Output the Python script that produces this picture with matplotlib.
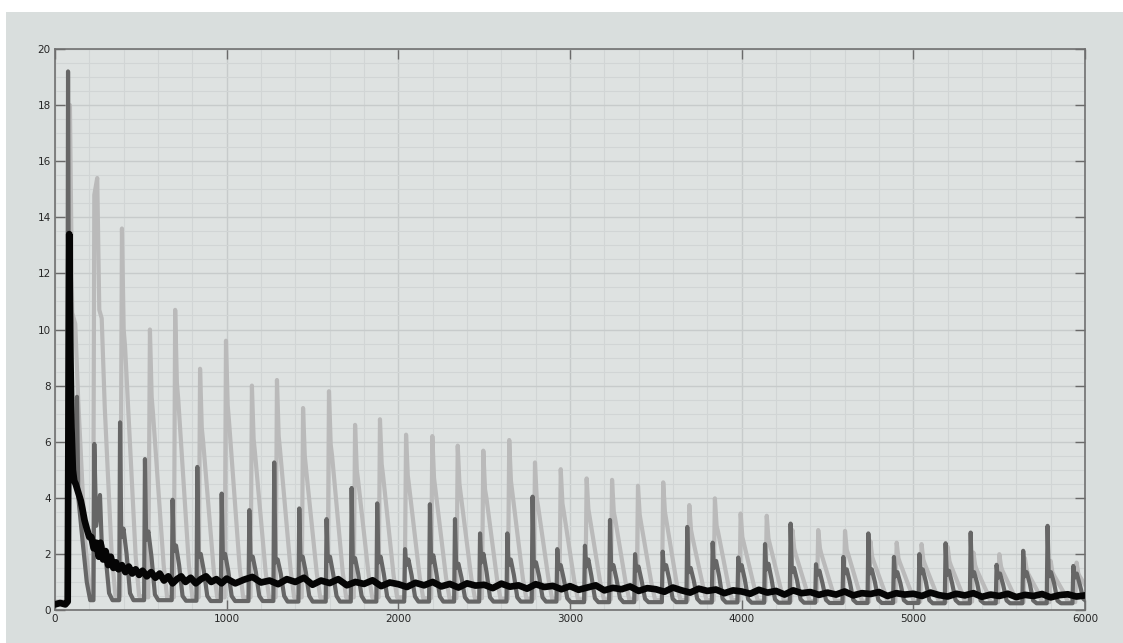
import matplotlib
matplotlib.use("Agg")
import matplotlib.pyplot as plt
from matplotlib.ticker import MultipleLocator
from matplotlib.patches import Rectangle

# ---------------- data ----------------
# light gray series: vertices (x, y)
lg_x = [0, 78,
        87, 100, 118, 135, 175, 205, 222,
        229, 246, 258, 272, 290, 330, 352, 380,
        390, 400, 408, 470, 490, 543,
        553, 563, 571, 633, 653, 692,
        700, 710, 718, 780, 800, 837,
        845, 855, 863, 925, 945, 988,
        996, 1006, 1014, 1076, 1096, 1139,
        1147, 1157, 1165, 1227, 1247, 1285,
        1293, 1303, 1311, 1373, 1393, 1437,
        1445, 1455, 1463, 1525, 1545, 1588,
        1596, 1606, 1614, 1676, 1696, 1740,
        1748, 1758, 1766, 1828, 1848, 1885,
        1893, 1903, 1911, 1973, 1993, 2037,
        2045, 2055, 2063, 2125, 2145, 2190,
        2198, 2208, 2216, 2278, 2298, 2338,
        2346, 2356, 2364, 2426, 2446, 2487,
        2495, 2505, 2513, 2575, 2595, 2638,
        2646, 2656, 2664, 2726, 2746, 2788,
        2796, 2806, 2814, 2876, 2896, 2938,
        2946, 2956, 2964, 3026, 3046, 3089,
        3097, 3107, 3115, 3177, 3197, 3237,
        3245, 3255, 3263, 3325, 3345, 3388,
        3396, 3406, 3414, 3476, 3496, 3535,
        3543, 3553, 3561, 3623, 3643, 3687,
        3695, 3705, 3713, 3775, 3795, 3836,
        3844, 3854, 3862, 3924, 3944, 3986,
        3994, 4004, 4012, 4074, 4094, 4138,
        4146, 4156, 4164, 4226, 4246, 4288,
        4296, 4306, 4314, 4376, 4396, 4438,
        4446, 4456, 4464, 4526, 4546, 4594,
        4602, 4612, 4620, 4682, 4702, 4742,
        4750, 4760, 4768, 4830, 4850, 4895,
        4903, 4913, 4921, 4983, 5003, 5040,
        5048, 5058, 5066, 5128, 5148, 5192,
        5200, 5210, 5218, 5280, 5300, 5342,
        5350, 5360, 5368, 5430, 5450, 5493,
        5501, 5511, 5519, 5581, 5601, 5642,
        5650, 5660, 5668, 5730, 5750, 5792,
        5800, 5810, 5818, 5880, 5900, 5943,
        5951, 5961, 5969, 6000]
lg_y = [0.3, 0.3,
        18.0, 10.6, 10.2, 7.5, 2.5, 0.6, 0.5,
        14.8, 15.4, 10.7, 10.4, 7.2, 2.0, 0.5, 0.5,
        13.6, 10.0, 9.4, 1.9, 0.5, 0.45,
        10.0, 7.6, 7.0, 1.6, 0.45, 0.45,
        10.7, 8.1, 7.5, 1.6, 0.45, 0.45,
        8.6, 6.5, 6.0, 1.4, 0.45, 0.45,
        9.6, 7.3, 6.7, 1.5, 0.45, 0.45,
        8.0, 6.1, 5.6, 1.35, 0.45, 0.45,
        8.2, 6.2, 5.7, 1.4, 0.45, 0.45,
        7.2, 5.5, 5.0, 1.3, 0.45, 0.45,
        7.8, 5.9, 5.5, 1.35, 0.45, 0.45,
        6.6, 5.0, 4.6, 1.2, 0.45, 0.45,
        6.8, 5.2, 4.8, 1.2, 0.45, 0.45,
        6.25, 4.8, 4.4, 1.15, 0.42, 0.42,
        6.2, 4.7, 4.3, 1.15, 0.42, 0.42,
        5.86, 4.5, 4.1, 1.1, 0.42, 0.42,
        5.68, 4.3, 4.0, 1.1, 0.4, 0.4,
        6.06, 4.6, 4.2, 1.1, 0.4, 0.4,
        5.26, 4.0, 3.7, 1.05, 0.4, 0.4,
        5.02, 3.8, 3.5, 1.0, 0.38, 0.38,
        4.69, 3.6, 3.3, 0.95, 0.38, 0.38,
        4.64, 3.5, 3.25, 0.95, 0.38, 0.38,
        4.43, 3.4, 3.1, 0.9, 0.36, 0.36,
        4.55, 3.5, 3.2, 0.9, 0.36, 0.36,
        3.74, 2.85, 2.6, 0.85, 0.35, 0.35,
        3.98, 3.0, 2.8, 0.85, 0.35, 0.35,
        3.44, 2.6, 2.4, 0.8, 0.33, 0.33,
        3.36, 2.55, 2.35, 0.8, 0.33, 0.33,
        2.85, 2.2, 2.0, 0.75, 0.32, 0.32,
        2.85, 2.2, 2.0, 0.75, 0.32, 0.32,
        2.82, 2.15, 2.0, 0.72, 0.3, 0.3,
        2.45, 1.9, 1.75, 0.7, 0.3, 0.3,
        2.4, 1.85, 1.7, 0.7, 0.3, 0.3,
        2.35, 1.8, 1.65, 0.68, 0.3, 0.3,
        2.25, 1.75, 1.6, 0.65, 0.3, 0.3,
        2.05, 1.6, 1.45, 0.62, 0.28, 0.28,
        1.99, 1.55, 1.4, 0.6, 0.28, 0.28,
        1.85, 1.45, 1.3, 0.6, 0.28, 0.28,
        1.75, 1.35, 1.25, 0.58, 0.28, 0.28,
        1.69, 1.3, 1.2, 0.9]

# dark gray series: vertices (x, y)
dg_x = [0, 70,
        76, 82, 95, 120, 128, 136, 160, 185, 205, 224,
        229, 240, 262, 272, 295, 315, 335, 374,
        379, 386, 399, 417, 437, 457, 519,
        524, 531, 544, 562, 582, 602, 680,
        685, 692, 705, 723, 743, 763, 824,
        829, 836, 849, 867, 887, 907, 966,
        971, 978, 991, 1009, 1029, 1049, 1127,
        1132, 1139, 1152, 1170, 1190, 1210, 1272,
        1277, 1284, 1297, 1315, 1335, 1355, 1418,
        1423, 1430, 1443, 1461, 1481, 1501, 1577,
        1582, 1589, 1602, 1620, 1640, 1660, 1723,
        1728, 1735, 1748, 1766, 1786, 1806, 1872,
        1877, 1884, 1897, 1915, 1935, 1955, 2034,
        2039, 2046, 2059, 2077, 2097, 2117, 2179,
        2184, 2191, 2204, 2222, 2242, 2262, 2325,
        2330, 2337, 2350, 2368, 2388, 2408, 2471,
        2476, 2483, 2496, 2514, 2534, 2554, 2630,
        2635, 2642, 2655, 2673, 2693, 2713, 2777,
        2782, 2789, 2802, 2820, 2840, 2860, 2921,
        2926, 2933, 2946, 2964, 2984, 3004, 3082,
        3087, 3094, 3107, 3125, 3145, 3165, 3228,
        3233, 3240, 3253, 3271, 3291, 3311, 3374,
        3379, 3386, 3399, 3417, 3437, 3457, 3535,
        3540, 3547, 3560, 3578, 3598, 3618, 3678,
        3683, 3690, 3703, 3721, 3741, 3761, 3826,
        3831, 3838, 3851, 3869, 3889, 3909, 3975,
        3980, 3987, 4000, 4018, 4038, 4058, 4131,
        4136, 4143, 4156, 4174, 4194, 4214, 4280,
        4285, 4292, 4305, 4323, 4343, 4363, 4428,
        4433, 4440, 4453, 4471, 4491, 4511, 4587,
        4592, 4599, 4612, 4630, 4650, 4670, 4733,
        4738, 4745, 4758, 4776, 4796, 4816, 4882,
        4887, 4894, 4907, 4925, 4945, 4965, 5030,
        5035, 5042, 5055, 5073, 5093, 5113, 5183,
        5188, 5195, 5208, 5226, 5246, 5266, 5329,
        5334, 5341, 5354, 5372, 5392, 5412, 5480,
        5485, 5492, 5505, 5523, 5543, 5563, 5635,
        5640, 5647, 5660, 5678, 5698, 5718, 5777,
        5782, 5789, 5802, 5820, 5840, 5860, 5927,
        5932, 5939, 5952, 5970, 5990, 6000]
dg_y = [0.25, 0.25,
        19.2, 8.0, 5.0, 4.5, 7.6, 4.0, 2.5, 1.0, 0.35, 0.35,
        5.92, 3.0, 4.1, 2.4, 1.9, 0.6, 0.35, 0.35,
        6.69, 2.6, 2.9, 2.0, 0.6, 0.35, 0.35,
        5.38, 2.5, 2.8, 1.9, 0.55, 0.35, 0.35,
        3.93, 2.1, 2.3, 1.6, 0.5, 0.33, 0.33,
        5.1, 1.9, 2.0, 1.4, 0.5, 0.32, 0.32,
        4.15, 1.85, 2.0, 1.4, 0.5, 0.32, 0.32,
        3.56, 1.8, 1.9, 1.35, 0.5, 0.32, 0.32,
        5.26, 1.7, 1.8, 1.3, 0.5, 0.3, 0.3,
        3.62, 1.8, 1.9, 1.35, 0.5, 0.3, 0.3,
        3.24, 1.75, 1.9, 1.3, 0.5, 0.3, 0.3,
        4.35, 1.7, 1.85, 1.3, 0.5, 0.3, 0.3,
        3.8, 1.7, 1.9, 1.3, 0.48, 0.3, 0.3,
        2.17, 1.6, 1.8, 1.25, 0.48, 0.3, 0.3,
        3.77, 1.7, 1.95, 1.3, 0.48, 0.3, 0.3,
        3.24, 1.5, 1.65, 1.15, 0.45, 0.3, 0.3,
        2.73, 1.7, 2.0, 1.35, 0.45, 0.3, 0.3,
        2.73, 1.6, 1.8, 1.25, 0.45, 0.3, 0.3,
        4.04, 1.55, 1.7, 1.2, 0.45, 0.3, 0.3,
        2.17, 1.45, 1.6, 1.1, 0.42, 0.28, 0.28,
        2.29, 1.55, 1.8, 1.2, 0.42, 0.28, 0.28,
        3.21, 1.45, 1.6, 1.1, 0.42, 0.28, 0.28,
        1.99, 1.4, 1.55, 1.05, 0.4, 0.28, 0.28,
        2.08, 1.45, 1.6, 1.1, 0.4, 0.28, 0.28,
        2.96, 1.35, 1.5, 1.05, 0.4, 0.27, 0.27,
        2.4, 1.5, 1.75, 1.2, 0.4, 0.27, 0.27,
        1.87, 1.4, 1.6, 1.1, 0.38, 0.26, 0.26,
        2.35, 1.45, 1.65, 1.1, 0.38, 0.26, 0.26,
        3.08, 1.35, 1.5, 1.05, 0.38, 0.26, 0.26,
        1.63, 1.25, 1.4, 0.95, 0.36, 0.25, 0.25,
        1.89, 1.3, 1.45, 1.0, 0.36, 0.25, 0.25,
        2.73, 1.3, 1.45, 1.0, 0.36, 0.25, 0.25,
        1.89, 1.2, 1.35, 0.95, 0.35, 0.25, 0.25,
        1.99, 1.3, 1.45, 1.0, 0.35, 0.24, 0.24,
        2.38, 1.25, 1.4, 0.95, 0.35, 0.24, 0.24,
        2.76, 1.2, 1.35, 0.95, 0.34, 0.24, 0.24,
        1.61, 1.15, 1.3, 0.9, 0.34, 0.24, 0.24,
        2.11, 1.2, 1.35, 0.95, 0.34, 0.24, 0.24,
        3.0, 1.2, 1.35, 0.95, 0.33, 0.24, 0.24,
        1.57, 1.15, 1.3, 0.9, 0.4, 0.35]

# black series: early part (irregular samples) + later part (every 50)
blk_x_head = [0, 30, 60, 74, 83, 90, 96, 104, 112, 120, 130, 140, 150, 160, 172,
              185, 200, 212, 225, 240, 255, 265, 280, 295, 310, 325, 340, 355,
              370, 390, 410, 430, 450, 470, 490, 510, 535, 560, 585, 610, 635,
              660, 685, 710, 735, 760, 790, 820, 850, 880, 910, 940, 970]
blk_y_head = [0.2, 0.25, 0.2, 0.3, 13.4, 9.0, 6.5, 5.0, 4.6, 4.5, 4.3, 4.1, 3.9, 3.6, 3.2,
              2.9, 2.6, 2.6, 2.2, 2.4, 1.9, 2.4, 1.8, 2.1, 1.6, 1.9, 1.5, 1.7,
              1.45, 1.6, 1.35, 1.55, 1.3, 1.45, 1.25, 1.4, 1.2, 1.35, 1.15, 1.3, 1.05,
              1.2, 0.95, 1.1, 1.2, 1.0, 1.15, 0.95, 1.1, 1.2, 1.0, 1.1, 0.95]
blk_x_tail = list(range(1000, 6001, 50))
blk_y_tail = [1.12, 0.95, 1.08, 1.18, 0.98, 1.05, 0.92, 1.1, 1.0, 1.15,
              0.9, 1.05, 0.96, 1.1, 0.88, 1.0, 0.93, 1.06, 0.85, 0.98,
              0.92, 0.82, 0.97, 0.88, 1.0, 0.84, 0.93, 0.8, 0.95, 0.87,
              0.9, 0.78, 0.94, 0.83, 0.88, 0.76, 0.92, 0.82, 0.86, 0.74,
              0.85, 0.72, 0.8, 0.88, 0.7, 0.79, 0.74, 0.84, 0.68, 0.78,
              0.74, 0.65, 0.8, 0.7, 0.62, 0.76, 0.68, 0.73, 0.6, 0.7,
              0.66, 0.58, 0.72, 0.62, 0.68, 0.55, 0.7, 0.6, 0.64, 0.54,
              0.62, 0.55, 0.66, 0.52, 0.6, 0.57, 0.64, 0.5, 0.6, 0.55,
              0.58, 0.5, 0.62, 0.53, 0.48, 0.58, 0.52, 0.6, 0.47, 0.55,
              0.5, 0.58, 0.46, 0.54, 0.5, 0.57, 0.45, 0.53, 0.56, 0.48,
              0.52]

x_limits = (0, 6000)
y_limits = (0, 20)

# ---------------- drawing ----------------
W, H = 1123, 643
fig = plt.figure(figsize=(W / 100, H / 100), dpi=100, facecolor="white")
fig.patches.append(Rectangle((6 / W, 0), 1, (H - 12) / H, transform=fig.transFigure,
                             facecolor="#d9dedd", edgecolor="none", zorder=-10))

ax = fig.add_axes([55 / W, 1 - 610 / H, 1030 / W, (610 - 49) / H])
ax.set_facecolor("#dee2e1")

ax.plot(lg_x, lg_y, color="#bababa", lw=3.0, solid_joinstyle="round", zorder=2)
ax.plot(dg_x, dg_y, color="#666666", lw=3.0, solid_joinstyle="round", zorder=3)
ax.plot(blk_x_head + blk_x_tail, blk_y_head + blk_y_tail, color="#050505", lw=4.8,
        solid_joinstyle="round", zorder=4)

ax.set_xlim(*x_limits)
ax.set_ylim(*y_limits)
ax.xaxis.set_major_locator(MultipleLocator(1000))
ax.xaxis.set_minor_locator(MultipleLocator(200))
ax.yaxis.set_major_locator(MultipleLocator(2))
ax.yaxis.set_minor_locator(MultipleLocator(0.5))
ax.set_axisbelow(True)
ax.grid(which="major", color="#c7cbcb", lw=1.0)
ax.grid(which="minor", color="#d1d5d5", lw=0.8)

ax.tick_params(which="major", direction="in", length=7, width=1.0, color="#6a6a6a",
               top=True, right=True, labelsize=7.5, labelcolor="#262626", pad=3)
ax.tick_params(which="minor", length=0)
for s in ax.spines.values():
    s.set_color("#707070")
    s.set_linewidth(1.2)

fig.savefig("out.png", dpi=100, facecolor="white")
